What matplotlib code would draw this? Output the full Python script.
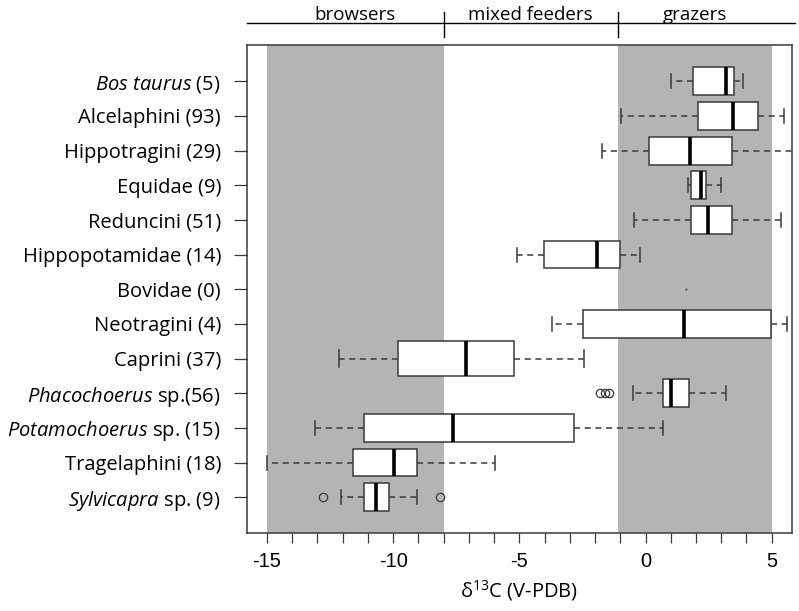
import matplotlib
matplotlib.use("Agg")
import matplotlib.pyplot as plt
from matplotlib.transforms import blended_transform_factory

# ---------------- data (top to bottom) ----------------
names = ["Bos taurus", "Alcelaphini", "Hippotragini", "Equidae", "Reduncini",
         "Hippopotamidae", "Bovidae", "Neotragini", "Caprini", "Phacochoerus",
         "Potamochoerus", "Tragelaphini", "Sylvicapra"]
suffixes = [" (5)", " (93)", " (29)", " (9)", " (51)", " (14)", " (0)", " (4)",
            " (37)", " sp.(56)", " sp. (15)", " (18)", " sp. (9)"]
italic = [True, False, False, False, False, False, False, False, False,
          True, True, False, True]

whis_lo = [1.02, -0.99, -1.72, 1.69, -0.44, -5.11, None, -3.70, -12.15, -0.51, -13.11, -15.0, -12.06]
q1      = [1.88, 2.08, 0.13, 1.79, 1.81, -4.01, None, -2.49, -9.80, 0.69, -11.16, -11.60, -11.16]
median  = [3.18, 3.48, 1.78, 2.21, 2.46, -1.92, None, 1.52, -7.11, 1.00, -7.61, -9.96, -10.68]
q3      = [3.50, 4.47, 3.42, 2.38, 3.42, -1.02, None, 4.96, -5.22, 1.74, -2.85, -9.07, -10.16]
whis_hi = [3.88, 5.50, 6.30, 2.98, 5.37, -0.21, None, 5.59, -2.42, 3.19, 0.69, -5.95, -9.06]
outliers = [[], [], [], [], [], [], [], [], [], [-1.79, -1.62, -1.45], [], [], [-12.78, -8.14]]
box_width = [0.8, 0.8, 0.8, 0.8, 0.8, 0.8, 0.8, 0.8, 1.0, 0.8, 0.8, 0.8, 0.8]
bovidae_dot = 1.6

zones = ["browsers", "mixed feeders", "grazers"]
zone_edges = [-15.0, -8.0, -1.1, 5.0]
x_ticks = list(range(-15, 6))

# ---------------- figure ----------------
plt.rcParams['mathtext.fontset'] = 'custom'
plt.rcParams['mathtext.rm'] = 'Open Sans'
plt.rcParams['mathtext.it'] = 'Open Sans:italic'

fig = plt.figure(figsize=(7.99, 6.11), dpi=100)
ax = fig.add_axes([0.3088, 0.1272, 0.6823, 0.7987])

n = len(names)
positions = [n - i for i in range(n)]

# shaded zones
ax.axvspan(zone_edges[0], zone_edges[1], color="#b4b4b4", lw=0, zorder=0)
ax.axvspan(zone_edges[2], zone_edges[3], color="#b4b4b4", lw=0, zorder=0)

stats, pos, wid = [], [], []
for i in range(n):
    if median[i] is None:
        continue
    stats.append(dict(whislo=whis_lo[i], q1=q1[i], med=median[i], q3=q3[i],
                      whishi=whis_hi[i], fliers=outliers[i]))
    pos.append(positions[i])
    wid.append(box_width[i])

edge = "#3a3a3a"
ax.bxp(stats, positions=pos, widths=wid, vert=False, patch_artist=True,
       showfliers=True,
       boxprops=dict(facecolor="white", edgecolor=edge, linewidth=1.1),
       medianprops=dict(color="black", linewidth=2.6),
       whiskerprops=dict(color=edge, linewidth=1.1, linestyle=(0, (4, 3))),
       capprops=dict(color=edge, linewidth=1.1),
       flierprops=dict(marker="o", markerfacecolor="none", markeredgecolor=edge,
                       markersize=6, markeredgewidth=0.9))

# Bovidae (0): tiny mark
ax.plot([bovidae_dot], [positions[names.index("Bovidae")]], marker=".",
        color="#666666", markersize=1.5, linestyle="none")

ax.set_xlim(-15.8, 5.8)
ax.set_ylim(-0.04, 14.04)

ax.set_xticks(x_ticks)
ax.set_xticklabels([str(t) if (t % 5 == 0) else "" for t in x_ticks],
                   fontfamily="Liberation Sans", fontsize=14.5)
ax.tick_params(axis="x", length=7.5, width=0.9, color=edge, pad=6)

ylabels = []
for nm, sf, it in zip(names, suffixes, italic):
    if it:
        ylabels.append(r"$\mathit{" + nm.replace(" ", r"\ ") + "}$" + sf)
    else:
        ylabels.append(nm + sf)
ax.set_yticks(positions)
ax.set_yticklabels(ylabels, fontfamily="Open Sans", fontsize=14.5)
ax.tick_params(axis="y", length=9.5, width=0.9, color=edge, pad=9)

for s in ax.spines.values():
    s.set_color(edge)
    s.set_linewidth(1.1)

ax.set_xlabel(r"δ$^{13}$C (V-PDB)", fontfamily="Open Sans", fontsize=14.5,
              labelpad=5)

# header bracket
tr = blended_transform_factory(ax.transData, ax.transAxes)
ax.plot([0, 1.006], [1.0451, 1.0451], transform=ax.transAxes, color="black",
        lw=1.0, clip_on=False)
for xb in zone_edges[1:3]:
    ax.plot([xb, xb], [1.0176, 1.0676], transform=tr, color="black", lw=1.0,
            clip_on=False)
centers = [(zone_edges[k] + zone_edges[k + 1]) / 2 for k in range(3)]
for zname, c in zip(zones, centers):
    ax.text(c, 1.0518, zname, transform=tr, ha="center", va="baseline",
            fontfamily="Open Sans", fontsize=13.5)

fig.savefig("out.png", dpi=100)
